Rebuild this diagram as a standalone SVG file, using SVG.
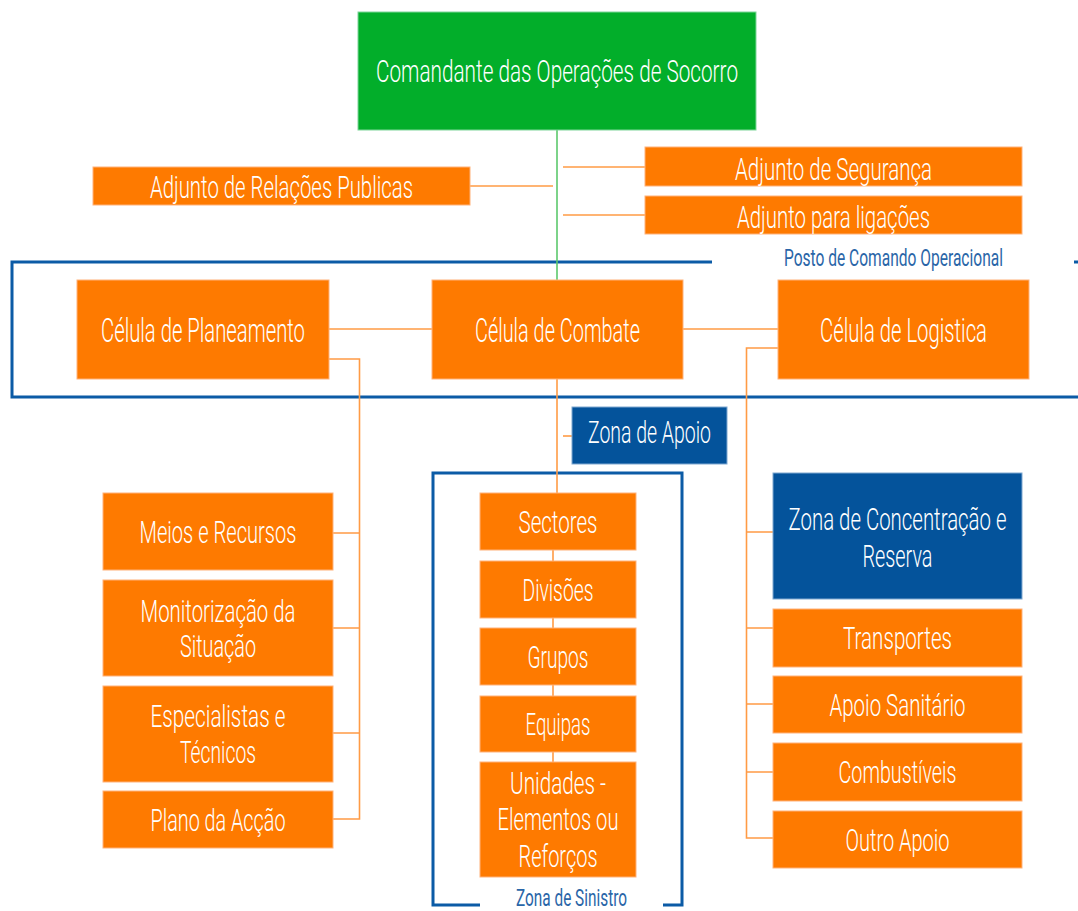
<svg xmlns="http://www.w3.org/2000/svg" width="1078" height="911" viewBox="0 0 1078 911">
<style>
.o{fill:#FE7A00;stroke:#FFB27A;stroke-width:1}
.g{fill:#02AE2A;stroke:#7FD69A;stroke-width:1}
.b{fill:#04539B;stroke:#7FA8D0;stroke-width:1}
.w{fill:#FFFFFF}
.t{font-family:Roboto,"Liberation Sans",sans-serif;fill:#FFFFFF;text-anchor:middle;font-size:31px;font-weight:300}
.cell{font-size:19.8px}
.lbl{font-family:Roboto,"Liberation Sans",sans-serif;fill:#2A66A8;text-anchor:middle;font-size:23px}
.c{fill:none;stroke:#FF9B45;stroke-width:1.6}
.cg{fill:none;stroke:#5CC86C;stroke-width:1.6}
.fr{fill:none;stroke:#0B5BA6;stroke-width:3}
</style>
<rect width="1078" height="911" fill="#FFFFFF"/>
<g id="frames">
<path class="fr" d="M712,262 H12 V397 H1080"/>
<path class="fr" d="M1074,262 H1080"/>
<path class="fr" d="M480,905 H433 V473 H682 V905 H663"/>
</g>
<g id="connectors">
<path class="cg" d="M557,130 V280"/>
<path class="c" d="M470,186 H553"/>
<path class="c" d="M563,167 H645"/>
<path class="c" d="M563,215 H645"/>
<path class="c" d="M329,329 H432"/>
<path class="c" d="M683,329 H778"/>
<path class="c" d="M329,359 H359.5 V819 H333"/>
<path class="c" d="M333,533 H359.5 M333,628 H359.5 M333,733 H359.5"/>
<path class="c" d="M557,379 V493"/>
<path class="c" d="M563,436 H572"/>
<path class="c" d="M553,550 V561 M553,618 V628 M553,685 V696 M553,752 V762"/>
<path class="c" d="M778,348 H746.5 V838 H773"/>
<path class="c" d="M746.5,532 H773 M746.5,628 H773 M746.5,704 H773 M746.5,772 H773"/>
</g>
<g id="comandante"><rect class="g" x="358" y="12" width="398" height="118"/><text class="t" x="557" y="82" style="font-size:32px" textLength="362" lengthAdjust="spacingAndGlyphs">Comandante das Operações de Socorro</text></g>
<g id="adj-rp"><rect class="o" x="93" y="167" width="377" height="38"/><text class="t" x="281.5" y="198" textLength="263" lengthAdjust="spacingAndGlyphs">Adjunto de Relações Publicas</text></g>
<g id="adj-seg"><rect class="o" x="645" y="147" width="377" height="39"/><text class="t" x="833.5" y="180" textLength="197" lengthAdjust="spacingAndGlyphs">Adjunto de Segurança</text></g>
<g id="adj-lig"><rect class="o" x="645" y="196" width="377" height="38"/><text class="t" x="833.5" y="228" textLength="193" lengthAdjust="spacingAndGlyphs">Adjunto para ligações</text></g>
<g id="posto"><rect class="w" x="712" y="243" width="362" height="28"/><g transform="scale(1,1.54)"><text class="lbl" x="893.5" y="172.7" style="font-size:15.5px" textLength="219" lengthAdjust="spacingAndGlyphs">Posto de Comando Operacional</text></g></g>
<g id="planeamento"><rect class="o" x="77" y="280" width="252" height="99"/><g transform="scale(1,1.7)"><text class="t cell" x="203" y="201.2" textLength="204" lengthAdjust="spacingAndGlyphs">Célula de Planeamento</text></g></g>
<g id="combate"><rect class="o" x="432" y="280" width="251" height="99"/><g transform="scale(1,1.7)"><text class="t cell" x="557.5" y="201.2" textLength="165" lengthAdjust="spacingAndGlyphs">Célula de Combate</text></g></g>
<g id="logistica"><rect class="o" x="778" y="280" width="251" height="99"/><g transform="scale(1,1.7)"><text class="t cell" x="903.5" y="201.2" textLength="167" lengthAdjust="spacingAndGlyphs">Célula de Logistica</text></g></g>
<g id="zona-apoio"><rect class="b" x="572" y="407" width="155" height="57"/><text class="t" x="649.5" y="443" style="font-size:32px" textLength="123" lengthAdjust="spacingAndGlyphs">Zona de Apoio</text></g>
<g id="meios"><rect class="o" x="103" y="493" width="230" height="77"/><text class="t" x="218" y="543" textLength="157" lengthAdjust="spacingAndGlyphs">Meios e Recursos</text></g>
<g id="monitorizacao"><rect class="o" x="103" y="580" width="230" height="96"/><text class="t" x="218" y="622" textLength="155" lengthAdjust="spacingAndGlyphs">Monitorização da</text><text class="t" x="218" y="657" textLength="76" lengthAdjust="spacingAndGlyphs">Situação</text></g>
<g id="especialistas"><rect class="o" x="103" y="686" width="230" height="96"/><text class="t" x="218" y="727" textLength="135" lengthAdjust="spacingAndGlyphs">Especialistas e</text><text class="t" x="218" y="763" textLength="76" lengthAdjust="spacingAndGlyphs">Técnicos</text></g>
<g id="plano"><rect class="o" x="103" y="791" width="230" height="57"/><text class="t" x="218" y="831" textLength="135" lengthAdjust="spacingAndGlyphs">Plano da Acção</text></g>
<g id="sectores"><rect class="o" x="480" y="493" width="156" height="57"/><text class="t" x="558" y="533" textLength="79" lengthAdjust="spacingAndGlyphs">Sectores</text></g>
<g id="divisoes"><rect class="o" x="480" y="561" width="156" height="57"/><text class="t" x="558" y="601" textLength="71" lengthAdjust="spacingAndGlyphs">Divisões</text></g>
<g id="grupos"><rect class="o" x="480" y="628" width="156" height="57"/><text class="t" x="558" y="668" textLength="61" lengthAdjust="spacingAndGlyphs">Grupos</text></g>
<g id="equipas"><rect class="o" x="480" y="696" width="156" height="56"/><text class="t" x="558" y="735" textLength="65" lengthAdjust="spacingAndGlyphs">Equipas</text></g>
<g id="unidades"><rect class="o" x="480" y="762" width="156" height="115"/><text class="t" x="558" y="794" textLength="96" lengthAdjust="spacingAndGlyphs">Unidades -</text><text class="t" x="558" y="830" textLength="121" lengthAdjust="spacingAndGlyphs">Elementos ou</text><text class="t" x="558" y="867" textLength="79" lengthAdjust="spacingAndGlyphs">Reforços</text></g>
<g id="zona-sinistro"><rect class="w" x="481" y="886" width="181" height="25"/><text class="lbl" x="571.5" y="906" textLength="111" lengthAdjust="spacingAndGlyphs">Zona de Sinistro</text></g>
<g id="zona-concentracao"><rect class="b" x="773" y="473" width="249" height="126"/><g transform="scale(1,1.53)"><text class="t" x="897.5" y="346.4" style="font-size:20.2px" textLength="218" lengthAdjust="spacingAndGlyphs">Zona de Concentração e</text><text class="t" x="897.5" y="370.6" style="font-size:20.2px" textLength="70" lengthAdjust="spacingAndGlyphs">Reserva</text></g></g>
<g id="transportes"><rect class="o" x="773" y="609" width="249" height="58"/><text class="t" x="897.5" y="649" textLength="109" lengthAdjust="spacingAndGlyphs">Transportes</text></g>
<g id="apoio-sanitario"><rect class="o" x="773" y="676" width="249" height="57"/><text class="t" x="897.5" y="716" textLength="136" lengthAdjust="spacingAndGlyphs">Apoio Sanitário</text></g>
<g id="combustiveis"><rect class="o" x="773" y="743" width="249" height="58"/><text class="t" x="897.5" y="783" textLength="118" lengthAdjust="spacingAndGlyphs">Combustíveis</text></g>
<g id="outro-apoio"><rect class="o" x="773" y="811" width="249" height="57"/><text class="t" x="897.5" y="851" textLength="104" lengthAdjust="spacingAndGlyphs">Outro Apoio</text></g>
</svg>
